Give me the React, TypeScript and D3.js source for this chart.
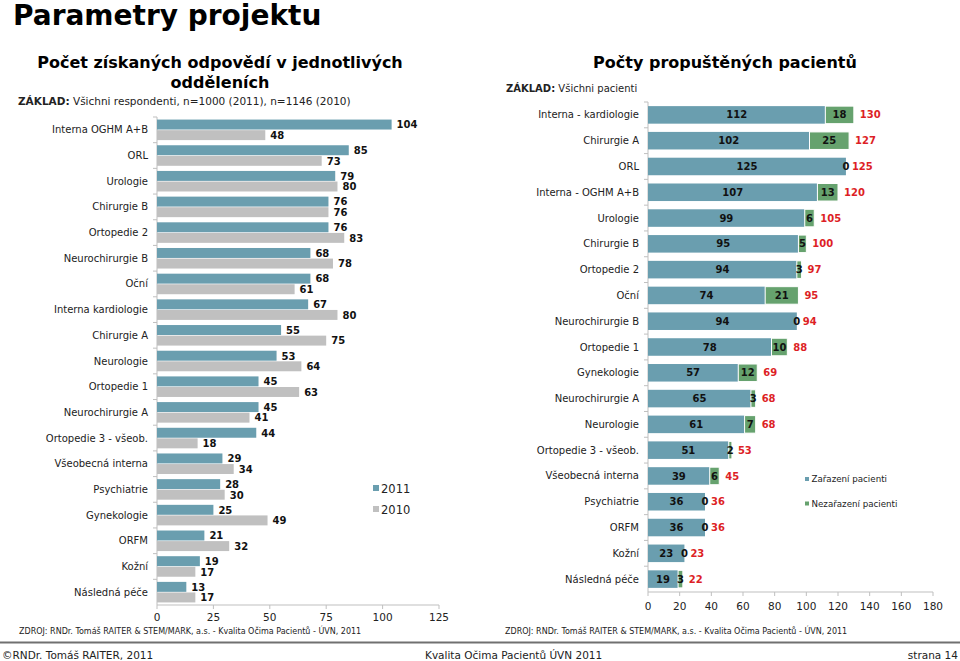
import React from "react";
import * as d3 from "d3";

const leftCategories = [
  "Interna OGHM A+B", "ORL", "Urologie", "Chirurgie B", "Ortopedie 2", "Neurochirurgie B",
  "Oční", "Interna kardiologie", "Chirurgie A", "Neurologie", "Ortopedie 1", "Neurochirurgie A",
  "Ortopedie 3 - všeob.", "Všeobecná interna", "Psychiatrie", "Gynekologie", "ORFM", "Kožní", "Následná péče",
];
const values2011 = [104, 85, 79, 76, 76, 68, 68, 67, 55, 53, 45, 45, 44, 29, 28, 25, 21, 19, 13];
const values2010 = [48, 73, 80, 76, 83, 78, 61, 80, 75, 64, 63, 41, 18, 34, 30, 49, 32, 17, 17];
const leftSeries = ["2011", "2010"];
const leftTicks = [0, 25, 50, 75, 100, 125];

const rightCategories = [
  "Interna - kardiologie", "Chirurgie A", "ORL", "Interna - OGHM A+B", "Urologie", "Chirurgie B",
  "Ortopedie 2", "Oční", "Neurochirurgie B", "Ortopedie 1", "Gynekologie", "Neurochirurgie A",
  "Neurologie", "Ortopedie 3 - všeob.", "Všeobecná interna", "Psychiatrie", "ORFM", "Kožní", "Následná péče",
];
const zarazeni = [112, 102, 125, 107, 99, 95, 94, 74, 94, 78, 57, 65, 61, 51, 39, 36, 36, 23, 19];
const nezarazeni = [18, 25, 0, 13, 6, 5, 3, 21, 0, 10, 12, 3, 7, 2, 6, 0, 0, 0, 3];
const rightSeries = ["Zařazení pacienti", "Nezařazení pacienti"];
const rightTicks = [0, 20, 40, 60, 80, 100, 120, 140, 160, 180];

const TEAL = "#6A9EAF";
const GRAY = "#C0C0C0";
const GREEN = "#66A26E";
const RED = "#DD1F26";
const FONT = "'DejaVu Sans', Verdana, sans-serif";

export default function App() {
  // Left chart scales
  const lx = d3.scaleLinear().domain([0, 125]).range([157, 439]);
  const ly = d3.scaleBand<string>().domain(leftCategories).range([117, 605]).paddingInner(0.2).paddingOuter(0.1);
  const lInner = d3.scaleBand<string>().domain(leftSeries).range([0, ly.bandwidth()]).paddingInner(0.06);
  const lStep = ly.step();

  // Right chart scales
  const rx = d3.scaleLinear().domain([0, 180]).range([648, 933]);
  const ry = d3.scaleBand<string>().domain(rightCategories).range([102, 592]).paddingInner(0.32).paddingOuter(0.16);
  const rStep = ry.step();

  return (
    <svg width={960} height={661} style={{ position: "absolute", left: 0, top: 0, background: "#fff" }} fontFamily={FONT}>
      <rect x={0} y={0} width={960} height={661} fill="#fff" />
      <text x={13} y={25} fontSize={28} fontWeight="bold" fill="#000">Parametry projektu</text>

      {/* LEFT CHART */}
      <text x={220} y={68} fontSize={16} fontWeight="bold" textAnchor="middle" fill="#000">Počet získaných odpovědí v jednotlivých</text>
      <text x={220} y={88} fontSize={16} fontWeight="bold" textAnchor="middle" fill="#000">odděleních</text>
      <text x={18} y={105} fontSize={10.5} fill="#222">
        <tspan fontWeight="bold">ZÁKLAD:</tspan> Všichni respondenti, n=1000 (2011), n=1146 (2010)
      </text>

      {/* y axis */}
      <line x1={157} x2={157} y1={117} y2={605} stroke="#BFBFBF" />
      {leftCategories.map((c, i) => (
        <line key={"lt" + i} x1={153} x2={157} y1={117 + i * lStep} y2={117 + i * lStep} stroke="#BFBFBF" />
      ))}
      {/* x axis */}
      <line x1={157} x2={439} y1={605} y2={605} stroke="#BFBFBF" />
      {leftTicks.map((t) => (
        <g key={"lx" + t}>
          <line x1={lx(t)} x2={lx(t)} y1={605} y2={609} stroke="#BFBFBF" />
          <text x={lx(t)} y={621} fontSize={10.5} textAnchor="middle" fill="#222">{t}</text>
        </g>
      ))}

      {leftCategories.map((c, i) => {
        const y0 = ly(c)!;
        const yA = y0 + lInner("2011")!;
        const yB = y0 + lInner("2010")!;
        const h = lInner.bandwidth();
        return (
          <g key={"lc" + i}>
            <text x={148} y={y0 + ly.bandwidth() / 2} dy="0.35em" fontSize={10} textAnchor="end" fill="#222">{c}</text>
            <rect x={lx(0)} y={yA} width={lx(values2011[i]) - lx(0)} height={h} fill={TEAL} />
            <rect x={lx(0)} y={yB} width={lx(values2010[i]) - lx(0)} height={h} fill={GRAY} />
            <text x={lx(values2011[i]) + 5} y={yA + h / 2} dy="0.38em" fontSize={10} fontWeight="bold" fill="#111">{values2011[i]}</text>
            <text x={lx(values2010[i]) + 5} y={yB + h / 2} dy="0.38em" fontSize={10} fontWeight="bold" fill="#111">{values2010[i]}</text>
          </g>
        );
      })}

      {/* left legend */}
      {leftSeries.map((s, i) => (
        <g key={"ll" + s}>
          <rect x={373} y={485 + i * 21} width={6} height={6} fill={i === 0 ? TEAL : GRAY} />
          <text x={381} y={492.5 + i * 21} fontSize={11.5} fill="#222">{s}</text>
        </g>
      ))}

      <text x={19} y={634} fontSize={8} fill="#222">ZDROJ: RNDr. Tomáš RAITER &amp; STEM/MARK, a.s. -  Kvalita Očima Pacientů - ÚVN, 2011</text>

      {/* RIGHT CHART */}
      <text x={725} y={68} fontSize={16} fontWeight="bold" textAnchor="middle" fill="#000">Počty propuštěných pacientů</text>
      <text x={506} y={92} fontSize={10} fill="#222">
        <tspan fontWeight="bold">ZÁKLAD:</tspan> Všichni pacienti
      </text>

      <line x1={648} x2={648} y1={102} y2={592} stroke="#BFBFBF" />
      {rightCategories.map((c, i) => (
        <line key={"rt" + i} x1={644} x2={648} y1={102 + i * rStep} y2={102 + i * rStep} stroke="#BFBFBF" />
      ))}
      <line x1={648} x2={933} y1={592} y2={592} stroke="#BFBFBF" />
      {rightTicks.map((t) => (
        <g key={"rx" + t}>
          <line x1={rx(t)} x2={rx(t)} y1={592} y2={596} stroke="#BFBFBF" />
          <text x={rx(t)} y={610} fontSize={10.5} textAnchor="middle" fill="#222">{t}</text>
        </g>
      ))}

      {rightCategories.map((c, i) => {
        const y0 = ry(c)!;
        const h = ry.bandwidth();
        const a = zarazeni[i];
        const b = nezarazeni[i];
        const total = a + b;
        const cy = y0 + h / 2;
        return (
          <g key={"rc" + i}>
            <text x={639} y={cy} dy="0.35em" fontSize={10} textAnchor="end" fill="#222">{c}</text>
            <rect x={rx(0)} y={y0} width={rx(a) - rx(0)} height={h} fill={TEAL} />
            {b > 0 && (
              <rect x={rx(a)} y={y0} width={rx(total) - rx(a)} height={h} fill={GREEN} stroke="#fff" strokeWidth={1} />
            )}
            <text x={(rx(0) + rx(a)) / 2} y={cy} dy="0.36em" fontSize={10} fontWeight="bold" textAnchor="middle" fill="#111">{a}</text>
            <text x={(rx(a) + rx(total)) / 2} y={cy} dy="0.36em" fontSize={10} fontWeight="bold" textAnchor="middle" fill="#111">{b}</text>
            <text x={rx(total) + 6} y={cy} dy="0.36em" fontSize={10} fontWeight="bold" fill={RED}>{total}</text>
          </g>
        );
      })}

      {rightSeries.map((s, i) => (
        <g key={"rl" + s}>
          <rect x={805} y={477 + i * 24.5} width={4} height={4} fill={i === 0 ? TEAL : GREEN} />
          <text x={811.5} y={482 + i * 24.5} fontSize={8.7} fill="#222">{s}</text>
        </g>
      ))}

      <text x={505} y={634} fontSize={8} fill="#222">ZDROJ: RNDr. Tomáš RAITER &amp; STEM/MARK, a.s. -  Kvalita Očima Pacientů - ÚVN, 2011</text>

      {/* footer */}
      <line x1={0} x2={960} y1={642.5} y2={642.5} stroke="#707070" strokeWidth={2} />
      <text x={2} y={659} fontSize={10.5} fill="#222">©RNDr. Tomáš RAITER, 2011</text>
      <text x={425} y={659} fontSize={10.5} fill="#222">Kvalita Očima Pacientů ÚVN 2011</text>
      <text x={958} y={659} fontSize={10.5} textAnchor="end" fill="#222">strana 14</text>
    </svg>
  );
}
